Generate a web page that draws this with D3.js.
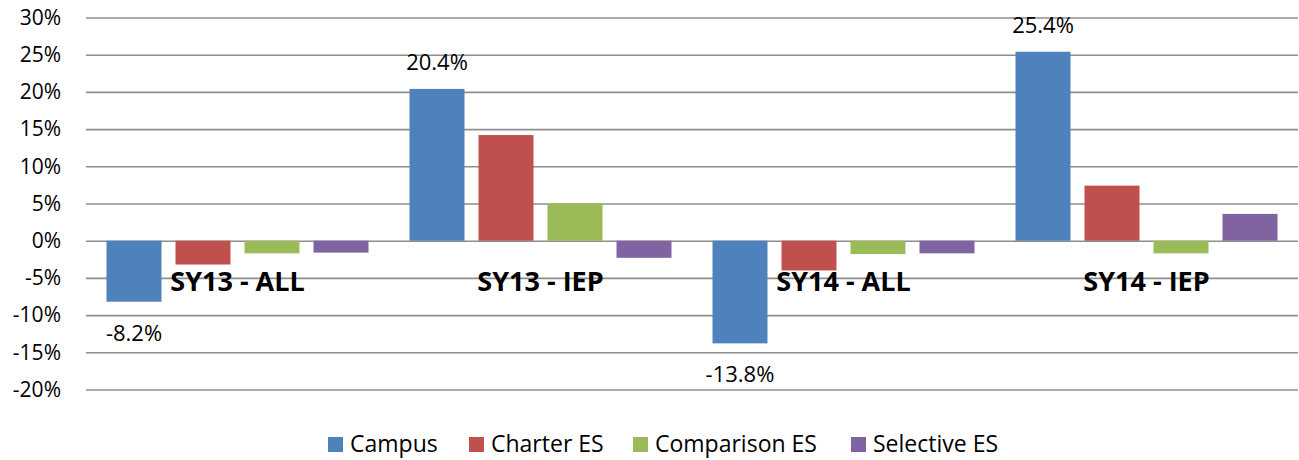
<!DOCTYPE html>
<html>
<head>
<meta charset="utf-8">
<script src="https://cdn.jsdelivr.net/npm/d3@7"></script>
<style>
  body { margin: 0; background: #fff; }
  text { font-family: "Open Sans", "DejaVu Sans", sans-serif; fill: #000; }
</style>
</head>
<body>
<div id="chart"></div>
<script>
// values, in percent
const categories = ['SY13 - ALL', 'SY13 - IEP', 'SY14 - ALL', 'SY14 - IEP'];
const seriesNames = ['Campus', 'Charter ES', 'Comparison ES', 'Selective ES'];
const campus = [-8.2, 20.4, -13.8, 25.4];
const charterES = [-3.2, 14.2, -4.0, 7.4];
const comparisonES = [-1.7, 5.0, -1.8, -1.7];
const selectiveES = [-1.6, -2.3, -1.7, 3.6];
const yTicks = [30, 25, 20, 15, 10, 5, 0, -5, -10, -15, -20];

const colours = ['#4f81bd', '#c0504d', '#9bbb59', '#8064a2'];
const seriesValues = [campus, charterES, comparisonES, selectiveES];

const width = 1299;
const height = 460;
const margin = { top: 17.5, right: 1, bottom: 70, left: 86 };
const plotW = width - margin.left - margin.right;
const plotH = height - margin.top - margin.bottom;

const data = categories.map((c, i) => ({
  category: c,
  values: seriesNames.map((s, j) => ({ series: s, value: seriesValues[j][i] }))
}));

const x0 = d3.scaleBand().domain(categories).range([0, plotW]);
const x1 = d3
  .scaleBand()
  .domain(seriesNames)
  .range([0, x0.bandwidth()])
  .paddingInner(0.203)
  .paddingOuter(0.297);
const y = d3.scaleLinear().domain([-20, 30]).range([plotH - 0.5, 0]);
const colour = d3.scaleOrdinal().domain(seriesNames).range(colours);

const svg = d3
  .select('#chart')
  .append('svg')
  .attr('width', width)
  .attr('height', height);

const g = svg.append('g').attr('transform', `translate(${margin.left},${margin.top})`);

// gridlines
g.append('g')
  .call(d3.axisLeft(y).tickValues(yTicks).tickSize(-plotW).tickFormat(''))
  .call((a) => a.select('.domain').remove())
  .selectAll('line')
  .attr('stroke', '#8e8e8e')
  .attr('stroke-width', 1.6);

// y tick labels
g.append('g')
  .attr('transform', 'translate(-25,0)')
  .call(d3.axisLeft(y).tickValues(yTicks).tickSize(0).tickPadding(0).tickFormat((d) => d + '%'))
  .call((a) => a.select('.domain').remove())
  .selectAll('text')
  .attr('font-size', 21)
  .attr('font-family', '"Open Sans", sans-serif')
  .attr('fill', '#000');

// bars
const groups = g
  .selectAll('g.group')
  .data(data)
  .join('g')
  .attr('class', 'group')
  .attr('transform', (d) => `translate(${x0(d.category)},0)`);

groups
  .selectAll('rect')
  .data((d) => d.values)
  .join('rect')
  .attr('x', (d) => x1(d.series))
  .attr('y', (d) => y(Math.max(0, d.value)))
  .attr('width', x1.bandwidth())
  .attr('height', (d) => Math.abs(y(d.value) - y(0)))
  .attr('fill', (d) => colour(d.series));

// data labels on Campus bars
g.selectAll('text.data-label')
  .data(data)
  .join('text')
  .attr('class', 'data-label')
  .attr('x', (d) => x0(d.category) + x1('Campus') + x1.bandwidth() / 2)
  .attr('y', (d) => (d.values[0].value >= 0 ? y(d.values[0].value) - 19 : y(d.values[0].value) + 39))
  .attr('text-anchor', 'middle')
  .attr('font-size', 22)
  .text((d) => d.values[0].value.toFixed(1) + '%');

// category labels, drawn across the plot like the source axis labels
g.selectAll('text.cat-label')
  .data(categories)
  .join('text')
  .attr('class', 'cat-label')
  .attr('x', (d) => x0(d) + x0.bandwidth() / 2)
  .attr('y', y(0) + 50)
  .attr('text-anchor', 'middle')
  .attr('font-size', 27)
  .attr('font-weight', 'bold')
  .text((d) => d);

// legend
const legendX = [328, 469, 633, 851];
const legend = svg
  .append('g')
  .selectAll('g')
  .data(seriesNames)
  .join('g')
  .attr('transform', (d, i) => `translate(${legendX[i]},437)`);

legend
  .append('rect')
  .attr('width', 15)
  .attr('height', 15)
  .attr('fill', (d) => colour(d));

legend
  .append('text')
  .attr('x', 22)
  .attr('y', 15)
  .attr('font-size', 23)
  .text((d) => d);
</script>
</body>
</html>
